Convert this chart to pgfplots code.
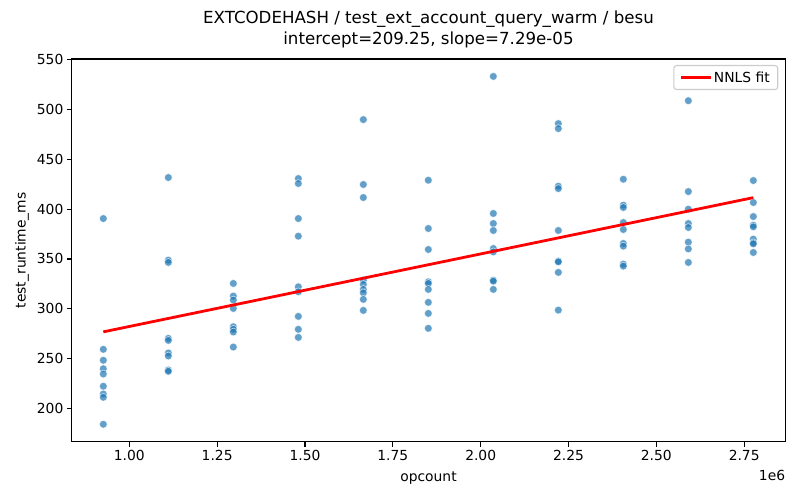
\documentclass[border=0pt]{standalone}
\usepackage{pgfplots}
\pgfplotsset{compat=1.18}
\usepackage{pgfplotstable}
\usepackage{fontspec}
\setmainfont{DejaVu Sans}
\definecolor{tabblue}{RGB}{31,119,180}
\definecolor{legedge}{gray}{0.8}
\pgfplotstableread{
x y
926000 390.6
926000 259.2
926000 248.2
926000 239.7
926000 234.4
926000 222.1
926000 214.3
926000 211.0
926000 183.9
1111000 431.8
1111000 348.8
1111000 346.5
1111000 270.2
1111000 268.2
1111000 255.5
1111000 252.5
1111000 238.4
1111000 237.1
1296000 325.4
1296000 312.7
1296000 308.7
1296000 300.3
1296000 281.9
1296000 279.3
1296000 276.6
1296000 261.5
1481000 430.8
1481000 425.8
1481000 390.6
1481000 372.9
1481000 322.0
1481000 317.0
1481000 292.3
1481000 279.3
1481000 271.2
1666000 490.0
1666000 424.8
1666000 411.7
1666000 328.7
1666000 324.4
1666000 319.4
1666000 316.0
1666000 309.4
1666000 298.3
1851000 429.1
1851000 380.6
1851000 359.5
1851000 327.0
1851000 325.4
1851000 319.4
1851000 306.4
1851000 295.3
1851000 280.3
2036000 533.4
2036000 395.7
2036000 385.6
2036000 378.6
2036000 360.5
2036000 357.1
2036000 328.7
2036000 327.7
2036000 319.4
2221000 486.0
2221000 481.0
2221000 423.1
2221000 420.7
2221000 378.6
2221000 347.8
2221000 347.1
2221000 336.5
2221000 298.6
2406000 430.1
2406000 404.0
2406000 401.7
2406000 386.6
2406000 379.6
2406000 365.6
2406000 362.9
2406000 344.8
2406000 342.8
2591000 509.0
2591000 417.7
2591000 400.0
2591000 385.6
2591000 381.6
2591000 366.9
2591000 360.1
2591000 346.5
2776000 428.8
2776000 406.7
2776000 392.6
2776000 383.9
2776000 382.3
2776000 369.9
2776000 366.2
2776000 365.2
2776000 356.5
}\scatterdata
\begin{document}
\begin{tikzpicture}
\useasboundingbox (0,0) rectangle (800bp,500bp);
\begin{axis}[
  at={(71.7bp,58.3bp)}, anchor=south west,
  scale only axis, width=713.6bp, height=382.7bp,
  xmin=836000, xmax=2867000, ymin=166.4, ymax=550.9,
  clip mode=individual,
  scaled x ticks=false,
  xtick={1000000,1250000,1500000,1750000,2000000,2250000,2500000,2750000},
  xticklabels={1.00,1.25,1.50,1.75,2.00,2.25,2.50,2.75},
  ytick={200,250,300,350,400,450,500,550},
  xtick pos=bottom, ytick pos=left,
  /pgf/number format/assume math mode=true,
  tick align=outside,
  major tick length=4.86bp,
  tick style={black, line width=1.1bp},
  axis line style={line width=1.1bp},
  ticklabel style={font=\fontsize{13.9}{16}\selectfont},
  xlabel={opcount},
  ylabel={test\_runtime\_ms},
  xlabel style={at={(axis description cs:0.5,0)}, anchor=base, yshift=-40bp, inner sep=0pt, font=\fontsize{13.9}{16}\selectfont},
  ylabel style={at={(axis description cs:-0.0696,0.5)}, anchor=center, inner sep=0pt, font=\fontsize{13.9}{16}\selectfont},
  title={EXTCODEHASH / test\_ext\_account\_query\_warm / besu\\intercept=209.25, slope=7.29e-05},
  title style={at={(axis description cs:0.5,1)}, anchor=south, yshift=5bp, inner sep=0pt, align=center, font=\fontsize{16.7}{21}\selectfont},
  legend style={at={(axis description cs:1,1)}, anchor=north east, xshift=-7bp, yshift=-6bp,
    draw=legedge, line width=1.1bp, rounded corners=2.8bp, fill=white, fill opacity=0.8, text opacity=1, draw opacity=1,
    font=\fontsize{13.9}{16}\selectfont, inner xsep=6bp, inner ysep=4bp, cells={anchor=west}},
  legend image code/.code={\draw[#1, line width=2.78bp, sharp corners] (0bp,0.3bp) -- (29.4bp,0.3bp);},
]
\addplot[only marks, mark=*, mark size=3.9bp, mark options={fill=tabblue, draw=white, line width=0.6bp, opacity=0.7}, forget plot] table[x=x, y=y] {\scatterdata};
\addplot[red, line width=2.78bp] coordinates {(926000,276.76) (2776000,411.62)};
\addlegendentry{NNLS fit}
\node[anchor=base east, inner sep=0pt, yshift=-39bp, font=\fontsize{13.9}{16}\selectfont] at (axis description cs:1,0) {1e6};
\end{axis}
\end{tikzpicture}
\end{document}
